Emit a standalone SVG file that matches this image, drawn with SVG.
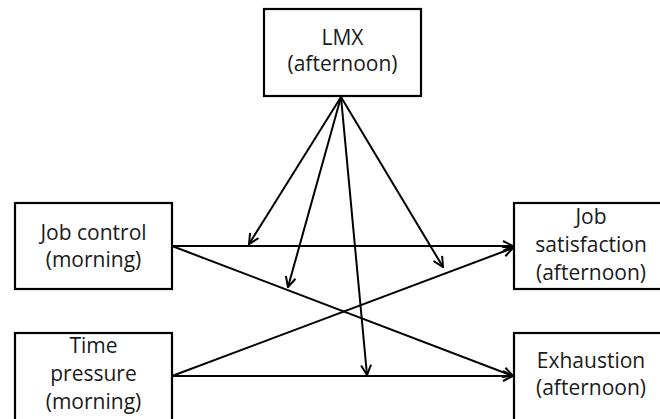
<svg xmlns="http://www.w3.org/2000/svg" width="660" height="419" viewBox="0 0 660 419">
<style>
.box{fill:#fff;stroke:#000;stroke-width:2.2}
.t{font-family:"Open Sans","Liberation Sans",sans-serif;font-size:21px;fill:#1a1a1a;text-anchor:middle}
.c{stroke:#000;stroke-width:2;fill:none;marker-end:url(#ah)}
</style>
<defs>
<marker id="ah" viewBox="0 0 12 12" refX="11" refY="6" markerWidth="12" markerHeight="12" markerUnits="userSpaceOnUse" orient="auto">
<path d="M1,1 L11,6 L1,11" fill="none" stroke="#000" stroke-width="2"/>
</marker>
</defs>
<rect width="660" height="419" fill="#fff"/>
<g id="connectors">
<line class="c" x1="172" y1="246" x2="513" y2="246"/>
<line class="c" x1="172" y1="246" x2="513" y2="376"/>
<line class="c" x1="172" y1="376" x2="513" y2="376"/>
<line class="c" x1="172" y1="376" x2="513" y2="248"/>
<line class="c" x1="341" y1="97" x2="249" y2="244"/>
<line class="c" x1="341" y1="97" x2="288" y2="287"/>
<line class="c" x1="341" y1="97" x2="367" y2="375"/>
<line class="c" x1="341" y1="97" x2="443" y2="267"/>
</g>
<g id="lmx">
<rect class="box" x="264" y="9" width="157" height="87"/>
<text class="t" x="342.5" y="45">LMX</text>
<text class="t" x="342.5" y="71">(afternoon)</text>
</g>
<g id="job-control">
<rect class="box" x="15" y="203" width="157" height="86"/>
<text class="t" x="93.5" y="240">Job control</text>
<text class="t" x="93.5" y="267">(morning)</text>
</g>
<g id="time-pressure">
<rect class="box" x="15" y="333" width="157" height="100"/>
<text class="t" x="93.5" y="353">Time</text>
<text class="t" x="93.5" y="381">pressure</text>
<text class="t" x="93.5" y="409">(morning)</text>
</g>
<g id="job-satisfaction">
<rect class="box" x="514" y="203" width="160" height="86"/>
<text class="t" x="591" y="224">Job</text>
<text class="t" x="591" y="252">satisfaction</text>
<text class="t" x="591" y="280">(afternoon)</text>
</g>
<g id="exhaustion">
<rect class="box" x="514" y="333" width="160" height="100"/>
<text class="t" x="591" y="368">Exhaustion</text>
<text class="t" x="591" y="395">(afternoon)</text>
</g>
</svg>
